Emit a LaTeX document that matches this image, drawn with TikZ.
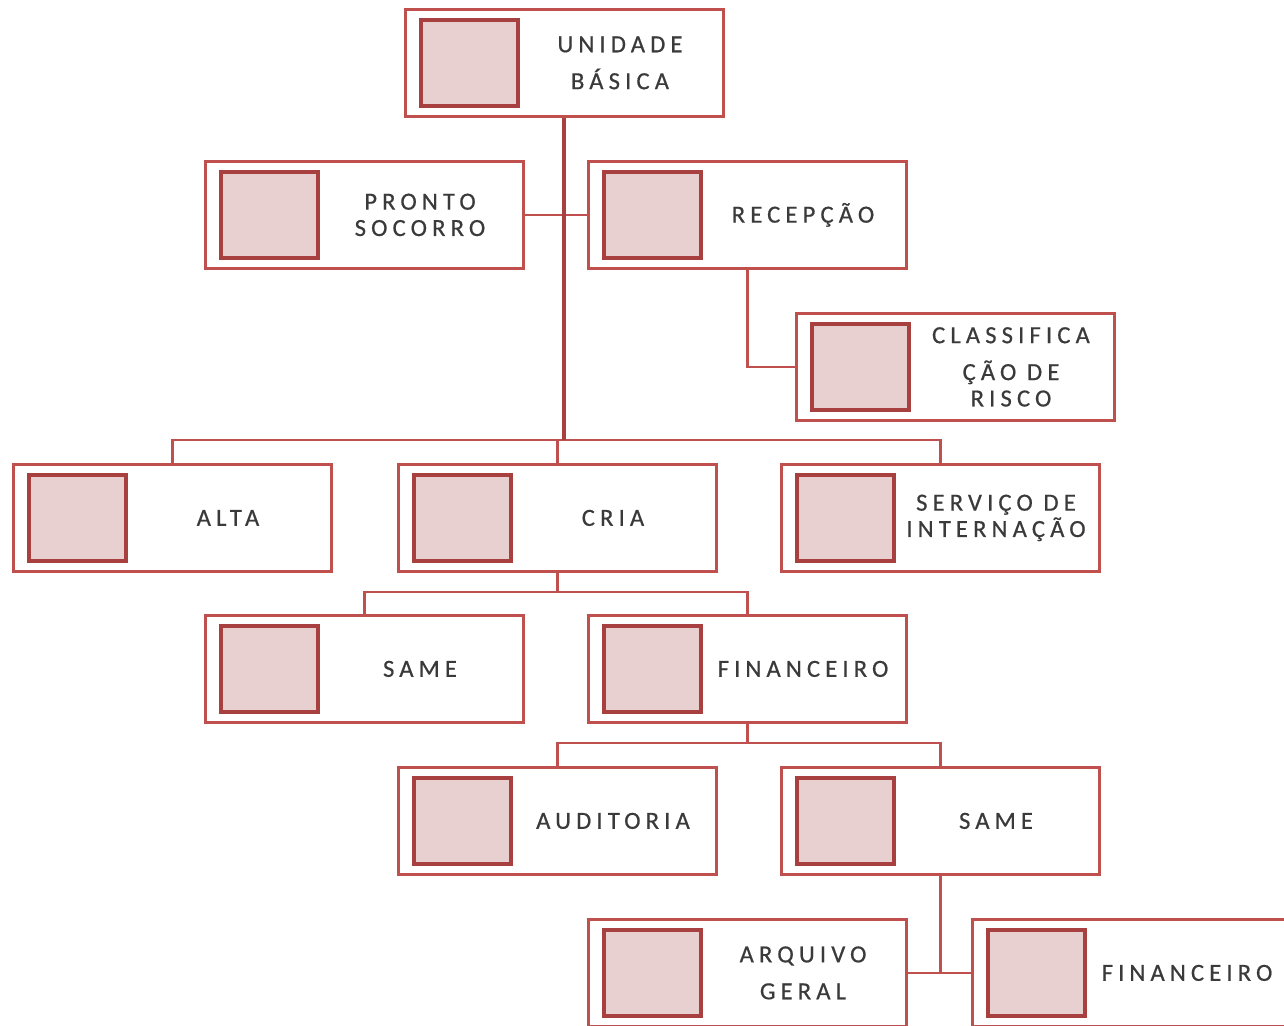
\documentclass[tikz,border=0pt]{standalone}
\usepackage{fontspec}
\newfontfamily\boxfont{Carlito}[LetterSpace=21,FakeBold=0.6]
\usetikzlibrary{positioning,calc}
\definecolor{boxred}{HTML}{C0504D}
\definecolor{darkred}{HTML}{A8403F}
\definecolor{sqfill}{HTML}{E8D0D0}
\definecolor{txtgray}{HTML}{3A3A3A}

\tikzset{
  unit/.style={draw=boxred, line width=1.6pt, fill=white,
    minimum width=6.36cm, minimum height=2.14cm, inner sep=0pt},
  icon/.style={draw=darkred, line width=2.2pt, fill=sqfill,
    minimum width=1.94cm, minimum height=1.72cm, inner sep=0pt},
  unittext/.style={text=txtgray, font=\boxfont\fontsize{14}{15}\selectfont, align=center},
  link/.style={draw=boxred, line width=1.3pt},
  trunk/.style={draw=darkred, line width=2.4pt}
}

% one box of the chart: name, left x, top y, text
\newcommand{\unitbox}[4]{%
  \node[unit, anchor=north west] (#1) at (#2,#3) {};
  \node[icon, anchor=north west] (#1-icon) at ($(#1.north west)+(15,10)$) {};
  \node[unittext] (#1-text) at ($(#1.west)+(216,0)$) {#4};
}

\begin{document}
\begin{tikzpicture}[x=0.02cm, y=-0.02cm]
  \useasboundingbox (0,0) rectangle (1284,1025);

  % boxes
  \unitbox{ub}{404}{8}{UNIDADE\\[6pt]BÁSICA}
  \unitbox{ps}{204}{160}{PRONTO\\SOCORRO}
  \unitbox{rec}{587}{160}{RECEPÇÃO}
  \unitbox{cr}{795}{312}{CLASSIFICA\\[6pt]ÇÃO DE\\RISCO}
  \unitbox{alta}{12}{463}{ALTA}
  \unitbox{cria}{397}{463}{CRIA}
  \unitbox{serv}{780}{463}{SERVIÇO DE\\INTERNAÇÃO}
  \unitbox{same}{204}{614}{SAME}
  \unitbox{fin}{587}{614}{FINANCEIRO}
  \unitbox{aud}{397}{766}{AUDITORIA}
  \unitbox{sametwo}{780}{766}{SAME}
  \unitbox{arq}{587}{918}{ARQUIVO\\[6pt]GERAL}
  \unitbox{fintwo}{971}{918}{FINANCEIRO}

  % connectors
  \coordinate (barA) at (0,440);
  \coordinate (barB) at (0,592);
  \coordinate (barC) at (0,743);
  \draw[link] (ps.east) -- (rec.west);
  \draw[link] (rec.south) |- (cr.west);
  \draw[link] (alta.north) -- (alta.north |- barA) -- (serv.north |- barA) -- (serv.north);
  \draw[link] (cria.north) -- (cria.north |- barA);
  \draw[trunk] (ub.south) -- (ub.south |- barA);
  \draw[link] (cria.south) -- (cria.south |- barB);
  \draw[link] (same.north) -- (same.north |- barB) -- (fin.north |- barB) -- (fin.north);
  \draw[link] (fin.south) -- (fin.south |- barC);
  \draw[link] (aud.north) -- (aud.north |- barC) -- (sametwo.north |- barC) -- (sametwo.north);
  \draw[link] (sametwo.south) -- (sametwo.south |- arq.east);
  \draw[link] (arq.east) -- (fintwo.west);
\end{tikzpicture}
\end{document}
